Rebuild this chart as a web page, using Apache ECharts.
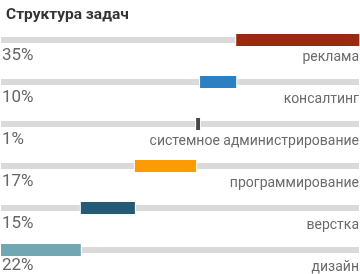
<!DOCTYPE html>
<html><head><meta charset="utf-8">
<script src="https://cdn.jsdelivr.net/npm/echarts@6/dist/echarts.min.js"></script>
<style>html,body{margin:0;padding:0;background:#fff}#c{width:360px;height:274px}</style>
</head><body><div id="c"></div>
<script>
// categories top to bottom
const categories = ['реклама','консалтинг','системное администрирование','программирование','верстка','дизайн'];
// share of tasks (%)
const values = [34.4, 10.1, 1.1, 17.1, 15.1, 22.3];
const percentLabels = ['35%','10%','1%','17%','15%','22%'];
const colors = ['#992a0f','#2b7fc3','#474747','#fb9b06','#255b74','#70a7b3'];

// stacking order: from bottom row upward (дизайн first at left)
const n = categories.length;
const starts = new Array(n);
let acc = 0;
for (let i = n - 1; i >= 0; i--) { starts[i] = acc; acc += values[i]; }
const segData = values.map((v, i) => [starts[i], starts[i] + v, i]);

const FONT = 'Roboto';
const chart = echarts.init(document.getElementById('c'), null, {renderer:'canvas'});
chart.setOption({
  animation:false,
  title:{text:'Структура задач', left:1, top:2,
    textStyle:{fontFamily:FONT, fontSize:15.5, fontWeight:'bold', color:'#333'}},
  grid:{left:1, right:1, top:19, bottom:3, containLabel:false},
  xAxis:{type:'value', min:0, max:100, show:false},
  yAxis:{type:'category', data:categories, inverse:true, show:false},
  series:[
    {type:'bar', barWidth:6, barGap:'-100%', silent:true,
     data:categories.map(()=>100), itemStyle:{color:'#dadada'},
     label:{show:true, position:[1,10], formatter:p=>percentLabels[p.dataIndex],
       fontFamily:FONT, fontSize:17, color:'#666', align:'left', verticalAlign:'top'}},
    {type:'bar', barWidth:6, barGap:'-100%', silent:true,
     data:categories.map(()=>100), itemStyle:{color:'rgba(0,0,0,0)'},
     label:{show:true, position:['100%',13], formatter:p=>categories[p.dataIndex],
       fontFamily:FONT, fontSize:14, color:'#6b6b6b', align:'right', verticalAlign:'top'}},
    {type:'custom', silent:true, data:segData, encode:{x:[0,1], y:2}, z:5,
     renderItem:(params, api) => {
       const a = api.coord([api.value(0), api.value(2)]);
       const b = api.coord([api.value(1), api.value(2)]);
       const i = api.value(2);
       const y = a[1];
       return {type:'group', children:[
         {type:'rect', shape:{x:a[0]-1, y:y-3, width:b[0]-a[0]+2, height:6}, style:{fill:'#fff'}},
         {type:'rect', shape:{x:a[0], y:y-6, width:b[0]-a[0], height:12}, style:{fill:colors[i]}}
       ]};
     }}
  ]
});
</script></body></html>
